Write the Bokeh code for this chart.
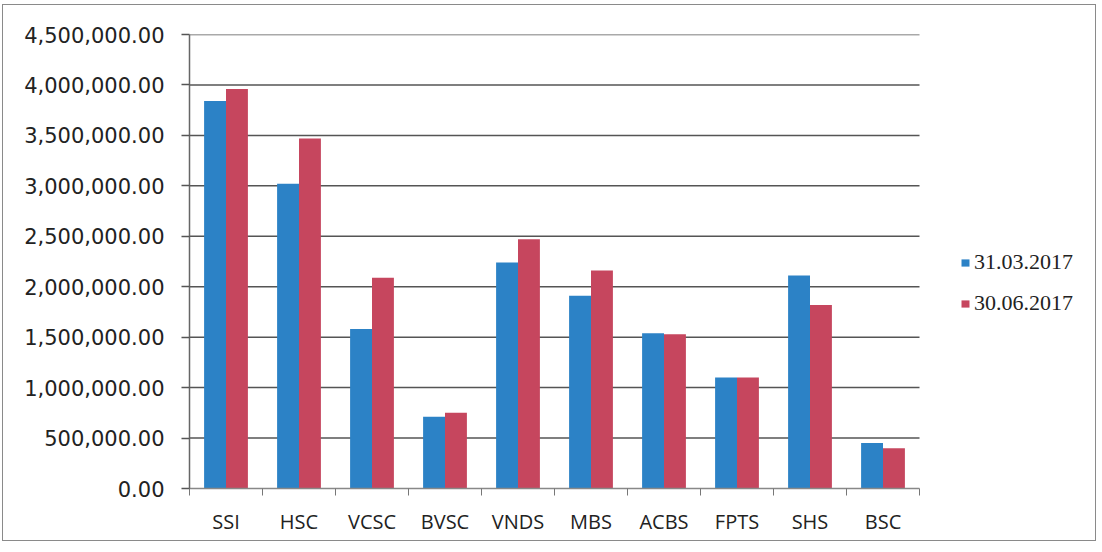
from bokeh.plotting import figure
from bokeh.models import (ColumnDataSource, FixedTicker, LinearAxis, Range1d,
                          CustomJSTickFormatter, Legend, LegendItem, NumeralTickFormatter)
from bokeh.embed import file_html
from bokeh.resources import INLINE

categories = ["SSI", "HSC", "VCSC", "BVSC", "VNDS", "MBS", "ACBS", "FPTS", "SHS", "BSC"]
q1 = [3840000, 3020000, 1580000, 710000, 2240000, 1910000, 1540000, 1100000, 2110000, 450000]
q2 = [3960000, 3470000, 2090000, 750000, 2470000, 2160000, 1530000, 1100000, 1820000, 400000]
series_names = ["31.03.2017", "30.06.2017"]
y_ticks = [0, 500000, 1000000, 1500000, 2000000, 2500000, 3000000, 3500000, 4000000, 4500000]

BLUE = "#2C82C6"
RED = "#C6465E"

W, H = 1094, 537
LEFT, TOP, BOTTOM = 186, 29, 54
DATA_W = 730  # pixel width of the category area
n = len(categories)
frame_w = W - LEFT
x_end = n * frame_w / DATA_W

idx = list(range(n))
src = ColumnDataSource(dict(
    x1=[i + 0.5 - 0.15 for i in idx],
    x2=[i + 0.5 + 0.15 for i in idx],
    q1=q1, q2=q2, cat=categories))

p = figure(width=W, height=H, output_backend="svg", toolbar_location=None,
           x_range=Range1d(0, x_end), y_range=Range1d(0, 4500000),
           x_axis_type=None, y_axis_type=None,
           min_border_left=LEFT, min_border_right=0, min_border_top=TOP, min_border_bottom=BOTTOM)
p.styles = {"border": "1px solid #8a8a8a", "margin-left": "2px", "margin-top": "4px"}
p.outline_line_color = None
p.background_fill_color = "white"
p.border_fill_color = "white"
p.xgrid.visible = False
p.ygrid.visible = False

# horizontal gridlines limited to the category area
gsrc = ColumnDataSource(dict(y=y_ticks[1:], x0=[0] * (len(y_ticks) - 1), x1=[n] * (len(y_ticks) - 1)))
p.segment(x0="x0", x1="x1", y0="y", y1="y", source=gsrc, line_color="#555555", line_width=1.5)

r1 = p.vbar(x="x1", top="q1", width=0.3, source=src, fill_color=BLUE, line_color=None)
r2 = p.vbar(x="x2", top="q2", width=0.3, source=src, fill_color=RED, line_color=None)

# y axis
yax = LinearAxis(ticker=FixedTicker(ticks=y_ticks),
                 formatter=NumeralTickFormatter(format="0,0.00"))
yax.axis_line_color = "#666666"
yax.axis_line_width = 1.5
yax.major_tick_out = 8
yax.major_tick_in = 0
yax.major_tick_line_color = "#555555"
yax.major_tick_line_width = 1.5
yax.minor_tick_line_color = None
yax.major_label_standoff = 17
yax.major_label_text_font = "DejaVu Sans"
yax.major_label_text_font_size = "21px"
yax.major_label_text_color = "#222222"
p.add_layout(yax, "left")

# x axis: boundary ticks
xtick_ax = LinearAxis(ticker=FixedTicker(ticks=list(range(n + 1))),
                      formatter=CustomJSTickFormatter(code="return ''"), bounds=(0, n))
xtick_ax.axis_line_color = "#888888"
xtick_ax.axis_line_width = 1.5
xtick_ax.major_tick_out = 7
xtick_ax.major_tick_in = 0
xtick_ax.major_tick_line_color = "#777777"
xtick_ax.minor_tick_line_color = None
xtick_ax.major_label_text_font_size = "1px"
xtick_ax.major_label_standoff = 0
p.add_layout(xtick_ax, "below")

# x axis: category labels
labels = {i + 0.5: c for i, c in enumerate(categories)}
xlab_ax = LinearAxis(ticker=FixedTicker(ticks=[i + 0.5 for i in idx]),
                     major_label_overrides=labels)
xlab_ax.axis_line_color = None
xlab_ax.major_tick_line_color = None
xlab_ax.minor_tick_line_color = None
xlab_ax.major_label_standoff = 6
xlab_ax.major_label_text_font = "Open Sans"
xlab_ax.major_label_text_font_size = "20px"
xlab_ax.major_label_text_color = "#222222"
p.add_layout(xlab_ax, "below")

legend = Legend(items=[LegendItem(label=series_names[0], renderers=[r1]),
                       LegendItem(label=series_names[1], renderers=[r2])],
                location=(DATA_W + 41, 172), orientation="vertical")
legend.label_text_font = "Liberation Serif"
legend.label_text_font_size = "22px"
legend.label_text_color = "#222222"
legend.glyph_width = 10
legend.glyph_height = 9
legend.spacing = 15
legend.label_standoff = 4
legend.border_line_color = None
legend.background_fill_alpha = 0
p.add_layout(legend, "center")

open("out.html", "w").write(file_html(p, INLINE))
